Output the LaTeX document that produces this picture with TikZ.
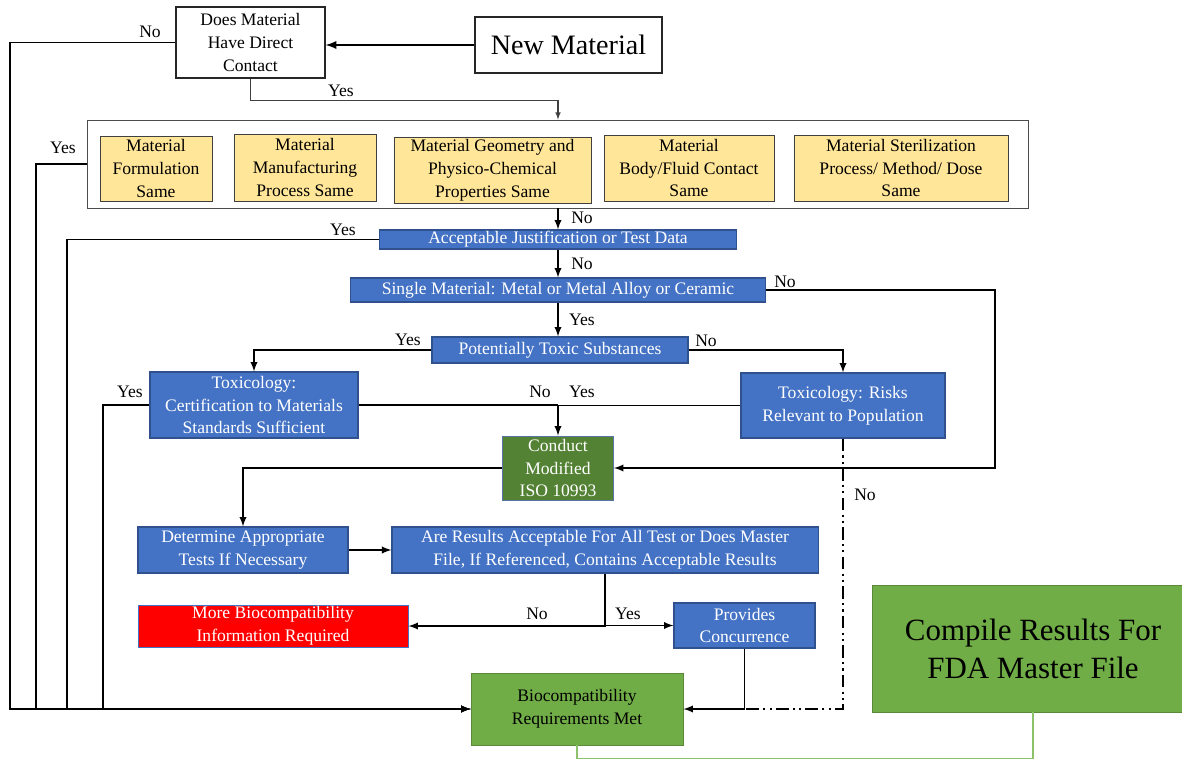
\documentclass[tikz,border=0pt]{standalone}
\usepackage{fontspec}
\setmainfont{Liberation Serif}
\definecolor{wordblue}{HTML}{4472C4}
\definecolor{wordnavy}{HTML}{2F528F}
\definecolor{gold}{HTML}{FFE699}
\definecolor{darkgreen}{HTML}{548235}
\definecolor{leafgreen}{HTML}{70AD47}
\definecolor{edgegreen}{HTML}{8CC26A}

\begin{document}
\begin{tikzpicture}[x=0.025cm, y=-0.025cm, >=latex,
                    every node/.style={font=\fontsize{12.5}{16.3}\selectfont},
                    box node/.style={draw, align=center, inner sep=1pt},
                    plain node/.style={box node, fill=white, draw=black!85, line width=0.8pt},
                    yellow node/.style={box node, fill=gold, draw=black!75, line width=0.6pt},
                    blue node/.style={box node, fill=wordblue, draw=wordnavy, text=white, line width=0.8pt},
                    green node/.style={box node, fill=leafgreen, draw=leafgreen!80!black, line width=0.6pt},
                    flow line/.style={draw, line width=1.3pt},
                    tag/.style={inner sep=0pt}]

  \useasboundingbox (0,0) rectangle (1182,761);

  % top of the chart
  \node[plain node, minimum width=3.725cm, minimum height=1.775cm] (contact) at (250.5,42.5) {Does Material\\Have Direct\\Contact};
  \node[plain node, minimum width=4.675cm, minimum height=1.4cm, font=\fontsize{20}{24}\selectfont] (newmat) at (568.5,45) {New Material};

  \node[box node, draw=black!70, line width=0.6pt, minimum width=23.525cm, minimum height=2.2cm] (same) at (558,164) {};
  \node[yellow node, minimum width=2.8cm, minimum height=1.625cm] (formula) at (156,168.5) {Material\\Formulation\\Same};
  \node[yellow node, minimum width=3.55cm, minimum height=1.675cm] (manufact) at (305,167.5) {Material\\Manufacturing\\Process Same};
  \node[yellow node, minimum width=4.925cm, minimum height=1.65cm] (geometry) at (492.5,170) {Material Geometry and\\Physico-Chemical\\Properties Same};
  \node[yellow node, minimum width=4.25cm, minimum height=1.65cm] (body) at (689,168) {Material\\Body/Fluid Contact\\Same};
  \node[yellow node, minimum width=5.35cm, minimum height=1.65cm] (steril) at (901,168) {Material Sterilization\\Process/ Method/ Dose\\Same};

  % decisions
  \node[blue node, inner sep=0pt, minimum width=8.925cm, minimum height=0.475cm] (justify) at (558,239.5) {Acceptable Justification or Test Data};
  \node[blue node, inner sep=0pt, minimum width=10.375cm, minimum height=0.6cm] (single) at (558,290) {Single Material: Metal or Metal Alloy or Ceramic};
  \node[blue node, inner sep=0pt, minimum width=6.4cm, minimum height=0.65cm] (toxic) at (560,350) {Potentially Toxic Substances};
  \node[blue node, minimum width=5.2cm, minimum height=1.65cm] (certif) at (254,405) {Toxicology:\\Certification to Materials\\Standards Sufficient};
  \node[blue node, minimum width=5.1cm, minimum height=1.625cm] (risks) at (843,405.5) {Toxicology: Risks\\Relevant to Population};
  \node[box node, fill=darkgreen, draw=wordnavy!80, text=white, line width=0.6pt, minimum width=2.775cm, minimum height=1.6cm] (conduct) at (558,468) {Conduct\\Modified\\ISO 10993};

  % testing
  \node[blue node, minimum width=5.25cm, minimum height=1.15cm] (determine) at (243,550) {Determine Appropriate\\Tests If Necessary};
  \node[blue node, minimum width=10.65cm, minimum height=1.15cm] (results) at (605,550) {Are Results Acceptable For All Test or Does Master\\File, If Referenced, Contains Acceptable Results};
  \node[box node, fill=red, draw=wordblue, text=white, line width=0.6pt, minimum width=6.75cm, minimum height=1.05cm] (morebio) at (273,626) {More Biocompatibility\\Information Required};
  \node[blue node, minimum width=3.525cm, minimum height=1.125cm] (concur) at (744.5,625.5) {Provides\\Concurrence};
  \node[green node, minimum width=5.3cm, minimum height=1.8cm] (met) at (577,709) {Biocompatibility\\Requirements Met};
  \node[green node, minimum width=8.05cm, minimum height=3.175cm, font=\fontsize{22}{27}\selectfont] (compile) at (1033,648.5) {Compile Results For\\FDA Master File};

  % connectors
  \draw[flow line, line width=1.6pt, ->] (newmat.west) -- (newmat.west -| contact.east);
  \draw[draw=black!75, line width=0.8pt, ->] (contact.south) -- ++(0,22) -| (same.north);
  \draw[flow line, ->] (contact.west) -- (10,42.5) |- (met.west);
  \draw[flow line, ->] (same.west) -- (36,164) |- (met.west);
  \draw[flow line, ->] (same.south) -- (justify.north);
  \draw[flow line, ->] (justify.west) -- (67,239.5) |- (met.west);
  \draw[flow line, ->] (justify.south) -- (single.north);
  \draw[flow line, ->] (single.east) -- (995,290) |- (conduct.east);
  \draw[flow line, ->] (single.south) -- (single.south |- toxic.north);
  \draw[flow line, ->] (toxic.west) -| (certif.north);
  \draw[flow line, ->] (toxic.east) -| (risks.north);
  \draw[flow line, ->] (certif.west) -- (103,405) |- (met.west);
  \draw[flow line] (certif.east) -- (certif.east -| conduct.north);
  \draw[flow line, ->] (risks.west) -- (risks.west -| conduct.north) -- (conduct.north);
  \draw[flow line, ->] (conduct.west) -| (determine.north);
  \draw[flow line, ->] (determine.east) -- (results.west);
  \draw[flow line, ->] (results.south) |- (morebio.east);
  \draw[flow line, ->] (results.south) |- (concur.west);
  \draw[flow line, ->] (concur.south) |- (met.east);
  \draw[flow line, line width=1pt, dash pattern=on 9pt off 3pt on 1.5pt off 3pt on 1.5pt off 3pt] (risks.south) |- (concur.south |- met.east);
  \draw[draw=edgegreen, line width=1.2pt] (compile.south) -- ++(0,46) -| (met.south);

  % yes / no
  \node[tag] (n1) at (150,32) {No};
  \node[tag] (y1) at (341,91) {Yes};
  \node[tag] (y2) at (63,148) {Yes};
  \node[tag] (n2) at (582,218) {No};
  \node[tag] (y3) at (343,230) {Yes};
  \node[tag] (n3) at (582,264) {No};
  \node[tag] (n4) at (785,282) {No};
  \node[tag] (y4) at (582,320) {Yes};
  \node[tag] (y5) at (408,340) {Yes};
  \node[tag] (n5) at (706,341) {No};
  \node[tag] (y6) at (130,392) {Yes};
  \node[tag] (n6) at (540,392) {No};
  \node[tag] (y7) at (582,392) {Yes};
  \node[tag] (n7) at (865,495) {No};
  \node[tag] (n8) at (537,614) {No};
  \node[tag] (y8) at (628,614) {Yes};
\end{tikzpicture}
\end{document}
